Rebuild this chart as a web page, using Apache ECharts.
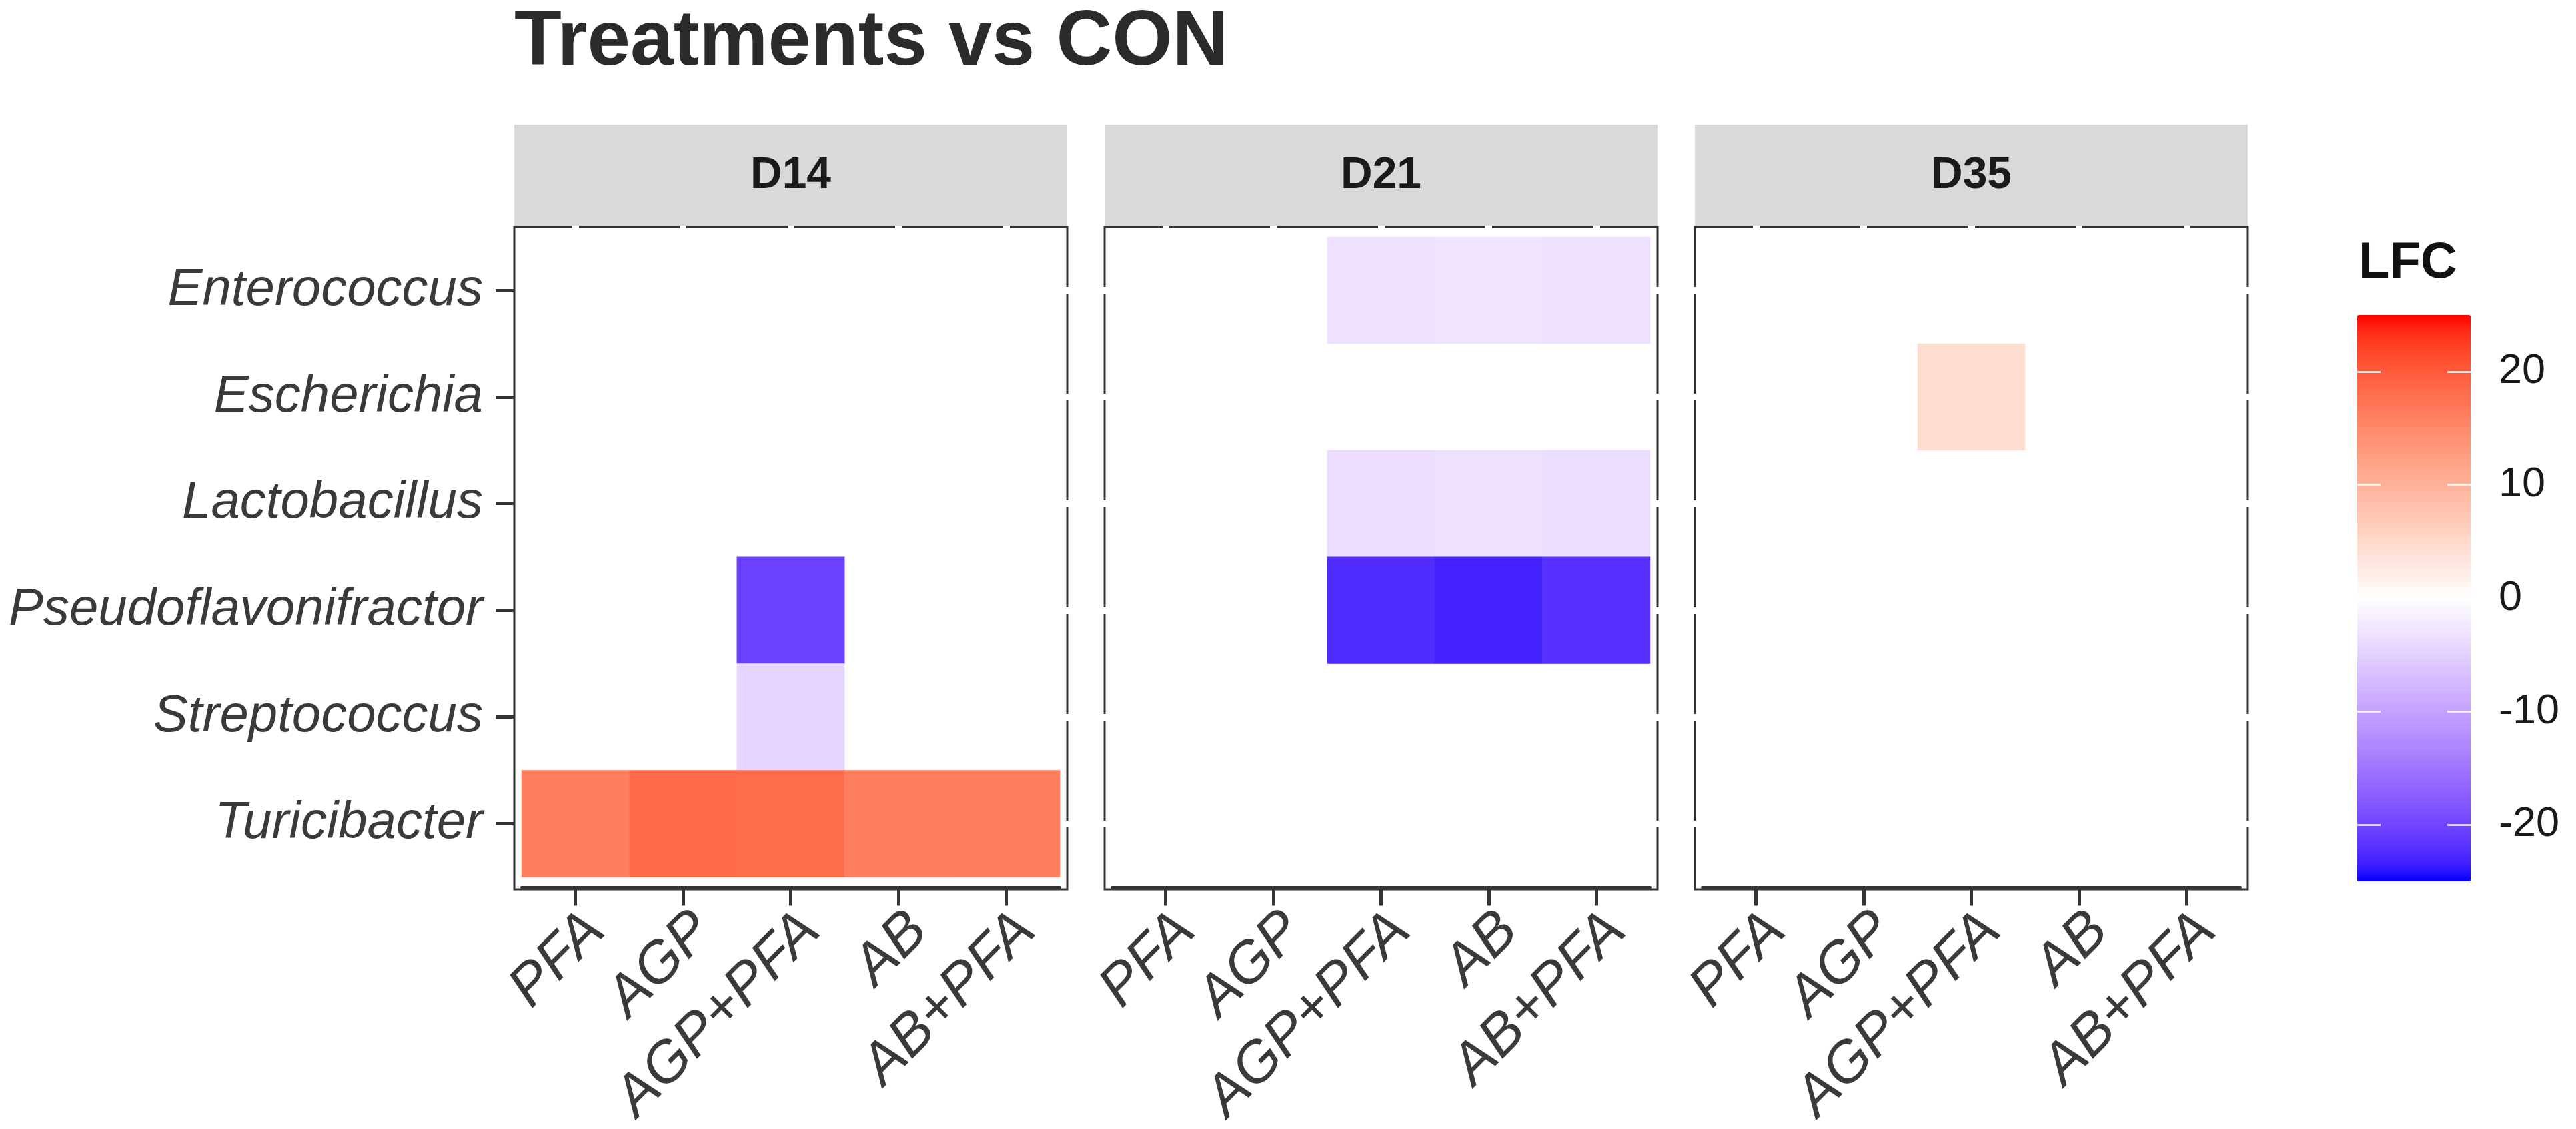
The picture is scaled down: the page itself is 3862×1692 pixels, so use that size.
<!DOCTYPE html>
<html>
<head>
<meta charset="utf-8">
<title>Treatments vs CON</title>
<script src="https://cdn.jsdelivr.net/npm/echarts@6/dist/echarts.min.js"></script>
<style>
  html, body { margin: 0; padding: 0; background: #fff; }
  #main { width: 3862px; height: 1692px; }
</style>
</head>
<body>
<div id="main"></div>
<script>
// ---- data ----
var days = ['D14', 'D21', 'D35'];
var treatments = ['PFA', 'AGP', 'AGP+PFA', 'AB', 'AB+PFA'];
var genera = ['Enterococcus', 'Escherichia', 'Lactobacillus', 'Pseudoflavonifractor', 'Streptococcus', 'Turicibacter'];

// rows = genera, columns = treatments, null = no tile
var lfcD14 = [
    [null, null, null, null, null],
    [null, null, null, null, null],
    [null, null, null, null, null],
    [null, null, -20.5, null, null],
    [null, null, -4.5, null, null],
    [16.3, 18.5, 18.2, 16.2, 16.5]
];
var lfcD21 = [
    [null, null, -3.3, -2.9, -3.2],
    [null, null, null, null, null],
    [null, null, -3.6, -3.3, -3.5],
    [null, null, -22.4, -23.2, -22.0],
    [null, null, null, null, null],
    [null, null, null, null, null]
];
var lfcD35 = [
    [null, null, null, null, null],
    [null, null, 4.3, null, null],
    [null, null, null, null, null],
    [null, null, null, null, null],
    [null, null, null, null, null],
    [null, null, null, null, null]
];
var lfcPanels = [lfcD14, lfcD21, lfcD35];
var lfcLimits = [-25, 25];
var legendTicks = [-20, -10, 0, 10, 20];

// ---- colour scale: blue - white - red, mixed in Lab like ggplot ----
function toLin(c) { c = c / 255; return c <= 0.04045 ? c / 12.92 : Math.pow((c + 0.055) / 1.055, 2.4); }
function toSrgb(v) {
    v = Math.max(0, Math.min(1, v));
    return Math.round(255 * (v <= 0.0031308 ? 12.92 * v : 1.055 * Math.pow(v, 1 / 2.4) - 0.055));
}
function rgb2lab(rgb) {
    var r = toLin(rgb[0]), g = toLin(rgb[1]), b = toLin(rgb[2]);
    var x = (0.4124 * r + 0.3576 * g + 0.1805 * b) / 0.95047;
    var y = (0.2126 * r + 0.7152 * g + 0.0722 * b);
    var z = (0.0193 * r + 0.1192 * g + 0.9505 * b) / 1.08883;
    var f = function (t) { return t > 0.008856 ? Math.cbrt(t) : 7.787 * t + 16 / 116; };
    var fx = f(x), fy = f(y), fz = f(z);
    return [116 * fy - 16, 500 * (fx - fy), 200 * (fy - fz)];
}
function lab2hex(lab) {
    var fy = (lab[0] + 16) / 116, fx = fy + lab[1] / 500, fz = fy - lab[2] / 200;
    var inv = function (t) { return t * t * t > 0.008856 ? t * t * t : (t - 16 / 116) / 7.787; };
    var x = inv(fx) * 0.95047, y = inv(fy), z = inv(fz) * 1.08883;
    var r = 3.2406 * x - 1.5372 * y - 0.4986 * z;
    var g = -0.9689 * x + 1.8758 * y + 0.0415 * z;
    var b = 0.0557 * x - 0.2040 * y + 1.0570 * z;
    return 'rgb(' + toSrgb(r) + ',' + toSrgb(g) + ',' + toSrgb(b) + ')';
}
var labLow = rgb2lab([0, 0, 255]), labMid = rgb2lab([255, 255, 255]), labHigh = rgb2lab([255, 0, 0]);
var scaleColors = [];
for (var k = 0; k <= 40; k++) {
    var t = k / 40, a, b, u;
    if (t < 0.5) { a = labLow; b = labMid; u = t / 0.5; } else { a = labMid; b = labHigh; u = (t - 0.5) / 0.5; }
    scaleColors.push(lab2hex([a[0] + (b[0] - a[0]) * u, a[1] + (b[1] - a[1]) * u, a[2] + (b[2] - a[2]) * u]));
}

function toCells(m) {
    var out = [];
    m.forEach(function (row, gi) {
        row.forEach(function (v, ti) {
            if (v !== null) out.push([ti, gi, v]);
        });
    });
    return out;
}

// ---- layout ----
var panelLeft = [771, 1656, 2541];
var panelW = 829, panelTop = 340, panelH = 993;
var padX = 11, padY = 15;
var stripTop = 187;
var ink = '#333333';
var txt = '#3a3a3a';
var fam = '"Liberation Sans", Arial, Helvetica, sans-serif';

var grids = [], xAxes = [], yAxes = [], series = [], graphics = [];

panelLeft.forEach(function (L, i) {
    grids.push({ left: L + padX, top: panelTop + padY, width: panelW - 2 * padX, height: panelH - 2 * padY });

    // bottom axis with labels
    xAxes.push({
        type: 'category', gridIndex: i, data: treatments, position: 'bottom', offset: padY,
        axisLine: { show: true, lineStyle: { color: ink, width: 4 } },
        axisTick: { show: true, alignWithLabel: true, length: 28, lineStyle: { color: ink, width: 5 } },
        axisLabel: { interval: 0, rotate: 45, margin: 22, verticalAlign: 'top', fontSize: 86, fontStyle: 'italic', fontFamily: fam, color: txt },
        splitLine: { show: false }, z: 5
    });
    // top axis: white inner ticks that cut the panel border
    xAxes.push({
        type: 'category', gridIndex: i, data: treatments, position: 'top', offset: padY + 2,
        axisLine: { show: false },
        axisTick: { show: true, inside: true, alignWithLabel: true, length: 6, lineStyle: { color: '#fff', width: 10 } },
        axisLabel: { show: false }, splitLine: { show: false }, z: 5
    });

    if (i === 0) {
        yAxes.push({
            type: 'category', gridIndex: i, data: genera, inverse: true, position: 'left', offset: padX,
            axisLine: { show: false },
            axisTick: { show: true, alignWithLabel: true, length: 28, lineStyle: { color: ink, width: 5 } },
            axisLabel: { interval: 0, margin: 47, fontSize: 78, fontStyle: 'italic', fontFamily: fam, color: txt },
            splitLine: { show: false }, z: 5
        });
    } else {
        yAxes.push({
            type: 'category', gridIndex: i, data: genera, inverse: true, position: 'left', offset: padX + 2,
            axisLine: { show: false },
            axisTick: { show: true, inside: true, alignWithLabel: true, length: 6, lineStyle: { color: '#fff', width: 10 } },
            axisLabel: { show: false }, splitLine: { show: false }, z: 5
        });
    }
    yAxes.push({
        type: 'category', gridIndex: i, data: genera, inverse: true, position: 'right', offset: padX + 2,
        axisLine: { show: false },
        axisTick: { show: true, inside: true, alignWithLabel: true, length: 6, lineStyle: { color: '#fff', width: 10 } },
        axisLabel: { show: false }, splitLine: { show: false }, z: 5
    });

    series.push({
        type: 'heatmap', name: days[i],
        xAxisIndex: 2 * i, yAxisIndex: 2 * i,
        data: toCells(lfcPanels[i]),
        emphasis: { disabled: true },
        z: 2
    });

    // facet strip and panel border
    graphics.push({
        type: 'rect', z: 1,
        shape: { x: L, y: stripTop, width: panelW, height: panelTop - stripTop },
        style: { fill: '#d9d9d9', stroke: null }
    });
    graphics.push({
        type: 'text', z: 3, x: L + panelW / 2, y: (stripTop + panelTop) / 2,
        style: { text: days[i], fill: '#1a1a1a', fontSize: 66, fontWeight: 'bold', fontFamily: fam, align: 'center', verticalAlign: 'middle' }
    });
    graphics.push({
        type: 'rect', z: 1,
        shape: { x: L, y: panelTop, width: panelW, height: panelH },
        style: { fill: null, stroke: ink, lineWidth: 3 }
    });
});

// legend colour bar grid
var barLeft = 3534, barTop = 472, barW = 170, barH = 849;
grids.push({ left: barLeft, top: barTop, width: barW, height: barH });
xAxes.push({ type: 'value', gridIndex: 3, show: false });
yAxes.push({
    type: 'value', gridIndex: 3, min: lfcLimits[0], max: lfcLimits[1], position: 'left', z: 10,
    axisLine: { show: false }, splitLine: { show: false },
    axisTick: { show: true, inside: true, length: 35, customValues: legendTicks, lineStyle: { color: '#fff', width: 2.5 } },
    axisLabel: { show: false }
});
yAxes.push({
    type: 'value', gridIndex: 3, min: lfcLimits[0], max: lfcLimits[1], position: 'right', z: 10,
    axisLine: { show: false }, splitLine: { show: false },
    axisTick: { show: true, inside: true, length: 35, customValues: legendTicks, lineStyle: { color: '#fff', width: 2.5 } },
    axisLabel: { show: true, margin: 42, customValues: legendTicks, fontSize: 63, fontFamily: fam, color: '#1a1a1a' }
});

graphics.push({
    type: 'text', z: 3, x: 771, y: 65,
    style: { text: 'Treatments vs CON', fill: '#2b2b2b', fontSize: 116, fontWeight: 'bold', fontFamily: fam, align: 'left', verticalAlign: 'middle' }
});
graphics.push({
    type: 'text', z: 3, x: 3536, y: 395,
    style: { text: 'LFC', fill: '#111', fontSize: 76, fontWeight: 'bold', fontFamily: fam, align: 'left', verticalAlign: 'middle' }
});

var chart = echarts.init(document.getElementById('main'), null, { renderer: 'canvas' });
chart.setOption({
    backgroundColor: '#fff',
    animation: false,
    grid: grids,
    xAxis: xAxes,
    yAxis: yAxes,
    visualMap: {
        type: 'continuous',
        min: lfcLimits[0], max: lfcLimits[1],
        seriesIndex: [0, 1, 2], dimension: 2,
        calculable: false, realtime: false,
        left: barLeft, top: barTop, padding: 0,
        itemWidth: barW, itemHeight: barH,
        text: null, showLabel: false,
        inRange: { color: scaleColors }
    },
    graphic: graphics,
    series: series
});
</script>
</body>
</html>
